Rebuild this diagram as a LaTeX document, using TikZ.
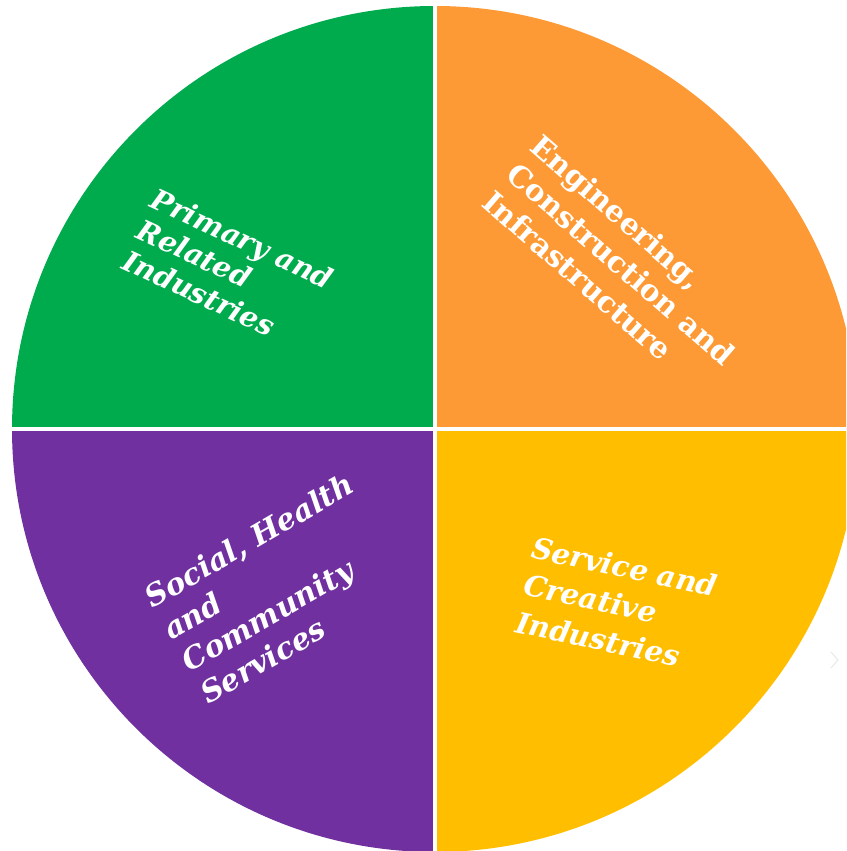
\documentclass[tikz,border=0pt]{standalone}
\usepackage{fontspec}
\setmainfont{DejaVu Serif}
\begin{document}
\begin{tikzpicture}[x=1pt,y=1pt,
  lbl/.style={text=white, align=left, inner sep=0pt, anchor=base west},
  sep/.style={draw=white, line width=4pt}]
\useasboundingbox (0,0) rectangle (846,851);
\definecolor{cgreen}{HTML}{00AB4E}
\definecolor{corange}{HTML}{FE9A35}
\definecolor{cyellow}{HTML}{FFBF00}
\definecolor{cpurple}{HTML}{7030A0}
\coordinate (c) at (435,422);
\begin{scope}
\clip (0,0) rectangle (846,851);
\fill[cgreen] (c) -- (12,422) arc[start angle=180, end angle=90, radius=423] -- cycle;
\fill[corange] (c) -- (435,845) arc[start angle=90, end angle=0, radius=423] -- cycle;
\fill[cyellow] (c) -- (858,422) arc[start angle=0, end angle=-90, radius=423] -- cycle;
\fill[cpurple] (c) -- (435,-1) arc[start angle=-90, end angle=-180, radius=423] -- cycle;
\draw[sep] (435,0) -- (435,851);
\draw[sep] (0,422) -- (846,422);
\end{scope}
\draw[draw=black!8, line width=1.2pt] (831,199) -- (838,191) -- (831,183);
\node[lbl, rotate=-25, font={\fontsize{28.5}{34}\selectfont\bfseries\itshape}] (primary) at (120,583) {Primary and\\Related\\Industries};
\node[lbl, rotate=-41, font={\fontsize{29.8}{37}\selectfont\bfseries}] (eng) at (480,646) {Engineering,\\Construction and\\Infrastructure};
\node[lbl, rotate=30, font={\fontsize{29.8}{37}\selectfont\bfseries\itshape}] (social) at (208,146) {Social, Health\\and\\Community\\Services};
\node[lbl, rotate=-12, font={\fontsize{29}{38}\selectfont\bfseries\itshape}] (service) at (514,219) {Service and\\Creative\\Industries};
\end{tikzpicture}
\end{document}
